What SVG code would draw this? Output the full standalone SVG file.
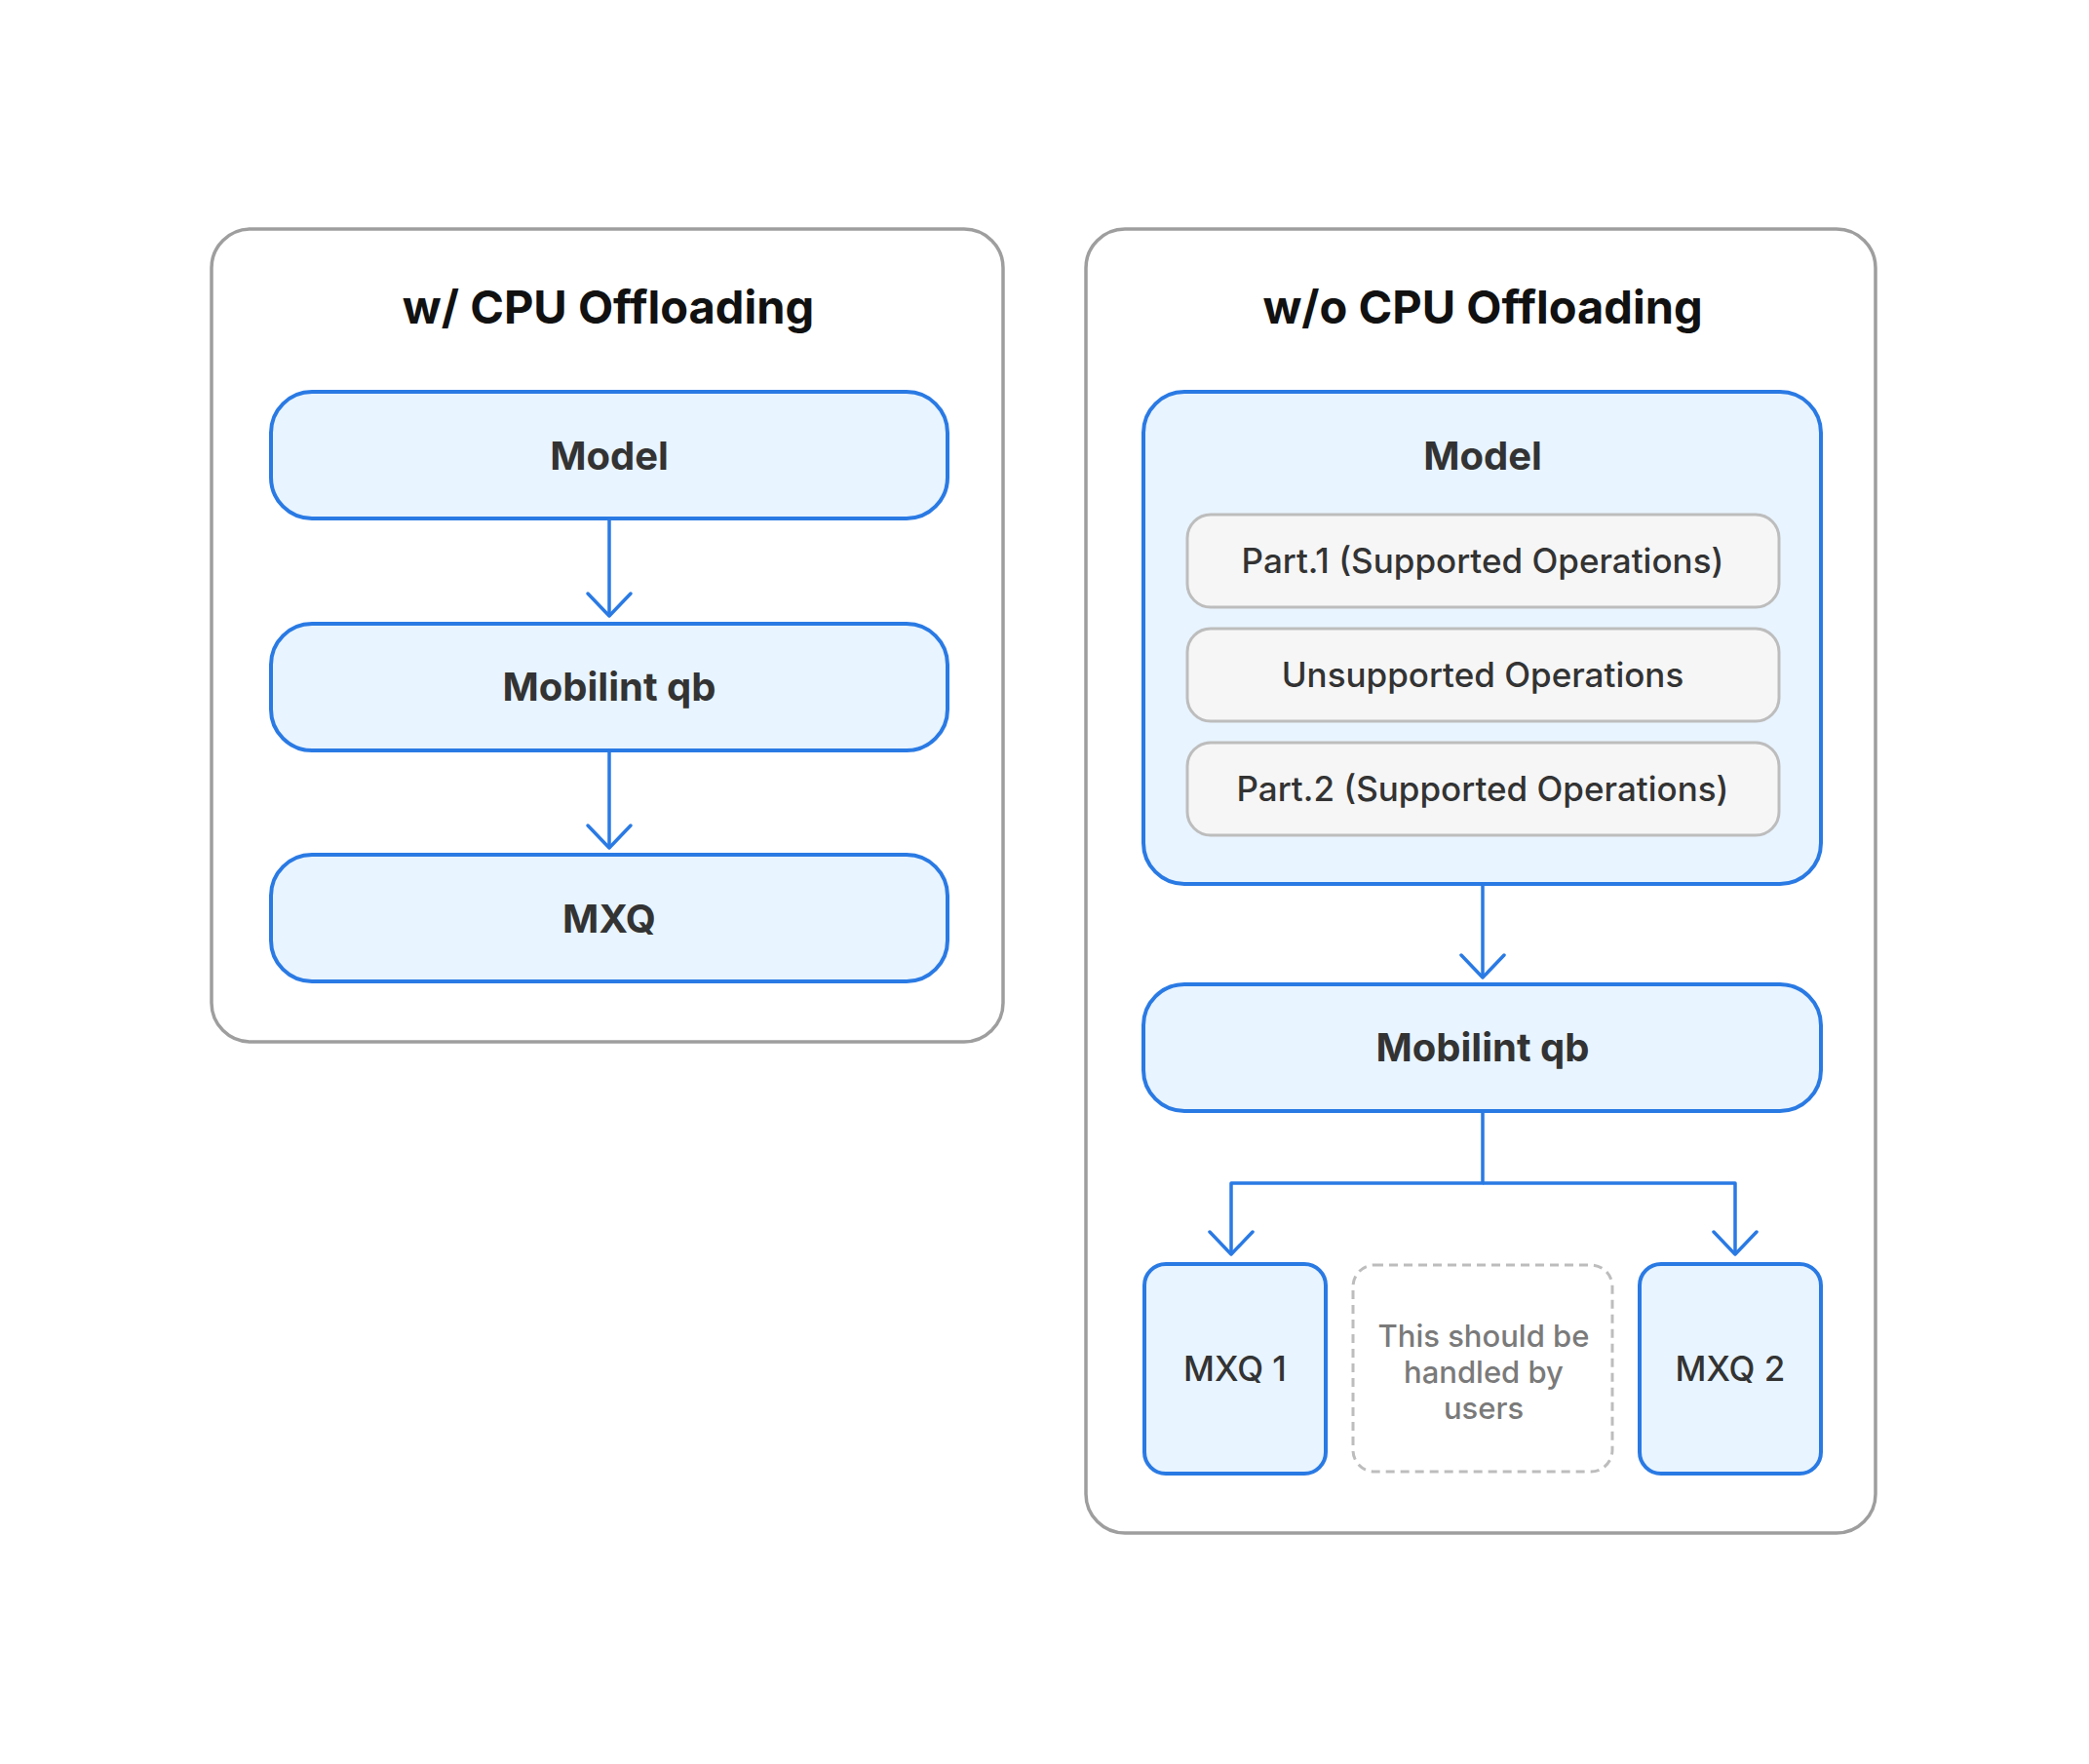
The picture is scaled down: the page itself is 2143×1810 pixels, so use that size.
<svg xmlns="http://www.w3.org/2000/svg" width="2143" height="1810" viewBox="0 0 2143 1810">
  <style>
    .container { fill: #FFFFFF; stroke: #9E9E9E; stroke-width: 3.5; }
    .node { fill: #E8F4FF; stroke: #2A7AE4; stroke-width: 4; }
    .part { fill: #F6F6F6; stroke: #BDBDBD; stroke-width: 3; }
    .dashed { fill: #FFFFFF; stroke: #BDBDBD; stroke-width: 3; stroke-dasharray: 9 6; }
    .title { font-family: Inter, "Liberation Sans", sans-serif; font-weight: 700; font-size: 47px; fill: #111111; text-anchor: middle; }
    .label { font-family: Inter, "Liberation Sans", sans-serif; font-weight: 700; font-size: 40px; fill: #333333; text-anchor: middle; }
    .plabel { font-family: Inter, "Liberation Sans", sans-serif; font-weight: 500; font-size: 35px; fill: #333333; text-anchor: middle; }
    .mlabel { font-family: Inter, "Liberation Sans", sans-serif; font-weight: 500; font-size: 35px; fill: #333333; text-anchor: middle; }
    .note { font-family: Inter, "Liberation Sans", sans-serif; font-weight: 500; font-size: 31px; fill: #7A7A7A; text-anchor: middle; }
    .edge { fill: none; stroke: #2A7AE4; stroke-width: 3.5; stroke-linejoin: round; }
  </style>
  <defs>
    <marker id="arrow" markerUnits="userSpaceOnUse" viewBox="-30 -30 40 60" markerWidth="40" markerHeight="60" refX="0" refY="0" orient="auto">
      <path d="M-23,-22 L0,0 L-23,22" fill="none" stroke="#2A7AE4" stroke-width="3.5" stroke-linecap="round" stroke-linejoin="round"/>
    </marker>
  </defs>
  <rect width="2143" height="1810" fill="#FFFFFF"/>

  <g id="left-panel">
    <rect class="container" x="217" y="235" width="812" height="834" rx="40"/>
    <text class="title" x="624" y="332">w/ CPU Offloading</text>
  </g>
  <g id="right-panel">
    <rect class="container" x="1114" y="235" width="810" height="1338" rx="40"/>
    <text class="title" x="1521" y="332">w/o CPU Offloading</text>
  </g>

  <g id="left-model">
    <rect class="node" x="278" y="402" width="694" height="130" rx="42"/>
    <text class="label" x="625" y="482">Model</text>
  </g>
  <g id="left-qb">
    <rect class="node" x="278" y="640" width="694" height="130" rx="42"/>
    <text class="label" x="625" y="719">Mobilint qb</text>
  </g>
  <g id="left-mxq">
    <rect class="node" x="278" y="877" width="694" height="130" rx="42"/>
    <text class="label" x="625" y="957">MXQ</text>
  </g>

  <g id="right-model">
    <rect class="node" x="1173" y="402" width="695" height="505" rx="42"/>
    <text class="label" x="1521" y="482">Model</text>
  </g>
  <g id="part1">
    <rect class="part" x="1218" y="528" width="607" height="95" rx="24"/>
    <text class="plabel" x="1521" y="588">Part.1 (Supported Operations)</text>
  </g>
  <g id="unsupported">
    <rect class="part" x="1218" y="645" width="607" height="95" rx="24"/>
    <text class="plabel" x="1521" y="705">Unsupported Operations</text>
  </g>
  <g id="part2">
    <rect class="part" x="1218" y="762" width="607" height="95" rx="24"/>
    <text class="plabel" x="1521" y="822">Part.2 (Supported Operations)</text>
  </g>
  <g id="right-qb">
    <rect class="node" x="1173" y="1010" width="695" height="130" rx="42"/>
    <text class="label" x="1521" y="1089">Mobilint qb</text>
  </g>
  <g id="mxq1">
    <rect class="node" x="1174" y="1297" width="186" height="215" rx="22"/>
    <text class="mlabel" x="1267" y="1417">MXQ 1</text>
  </g>
  <g id="user-note">
    <rect class="dashed" x="1388" y="1298" width="266" height="212" rx="22"/>
    <text class="note" x="1522" y="1382">This should be</text>
    <text class="note" x="1522" y="1419">handled by</text>
    <text class="note" x="1522" y="1456">users</text>
  </g>
  <g id="mxq2">
    <rect class="node" x="1682" y="1297" width="186" height="215" rx="22"/>
    <text class="mlabel" x="1775" y="1417">MXQ 2</text>
  </g>

  <g id="connectors">
    <path class="edge" d="M625,532 L625,632" marker-end="url(#arrow)"/>
    <path class="edge" d="M625,770 L625,870" marker-end="url(#arrow)"/>
    <path class="edge" d="M1521,907 L1521,1003" marker-end="url(#arrow)"/>
    <path class="edge" d="M1521,1140 L1521,1214 L1263,1214 L1263,1287" marker-end="url(#arrow)"/>
    <path class="edge" d="M1521,1214 L1780,1214 L1780,1287" marker-end="url(#arrow)"/>
  </g>
</svg>
